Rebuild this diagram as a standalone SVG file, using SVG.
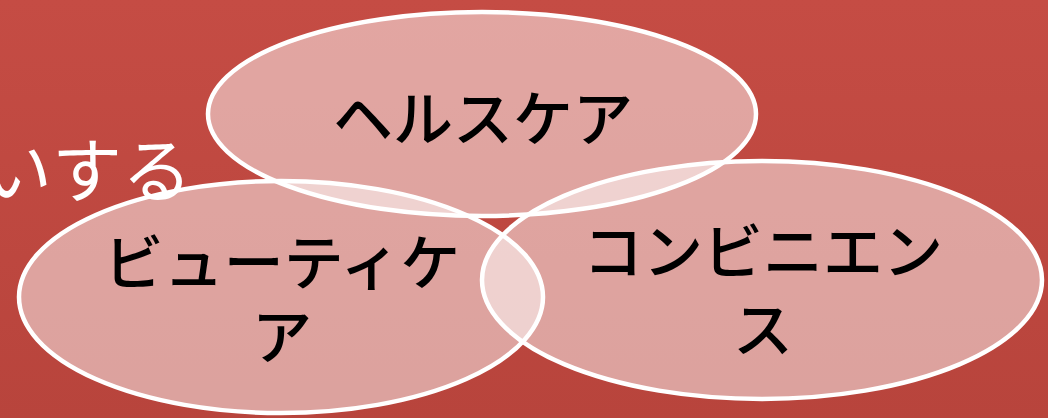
<svg xmlns="http://www.w3.org/2000/svg" width="1048" height="418" viewBox="0 0 1048 418">
<defs>
<linearGradient id="bg" x1="0" y1="0" x2="0" y2="1">
<stop offset="0" stop-color="#c54c44"/>
<stop offset="1" stop-color="#b8443c"/>
</linearGradient>
<style>
.ell{fill:#ffffff;fill-opacity:0.5;stroke:#ffffff;stroke-width:4.5}
.lbl{font-family:"Noto Sans CJK JP","Noto Sans",sans-serif;font-size:60px;font-weight:500;fill:#000000;text-anchor:middle}
.bgt{font-family:"Noto Sans CJK JP","Noto Sans",sans-serif;font-size:70px;fill:#ffffff;text-anchor:end}
</style>
</defs>
<rect x="0" y="0" width="1048" height="418" fill="url(#bg)"/>
<text class="bgt" x="192" y="197">いする</text>
<g id="health">
<ellipse class="ell" cx="482" cy="114" rx="274" ry="102"/>
<text class="lbl" x="483" y="141">ヘルスケア</text>
</g>
<g id="beauty">
<ellipse class="ell" cx="281" cy="297" rx="262" ry="116"/>
<text class="lbl" x="282" y="285">ビューティケ</text>
<text class="lbl" x="282" y="359">ア</text>
</g>
<g id="convenience">
<ellipse class="ell" cx="762" cy="280" rx="280" ry="119"/>
<text class="lbl" x="763" y="274">コンビニエン</text>
<text class="lbl" x="763" y="352">ス</text>
</g>
<g id="connectors"></g>
</svg>
